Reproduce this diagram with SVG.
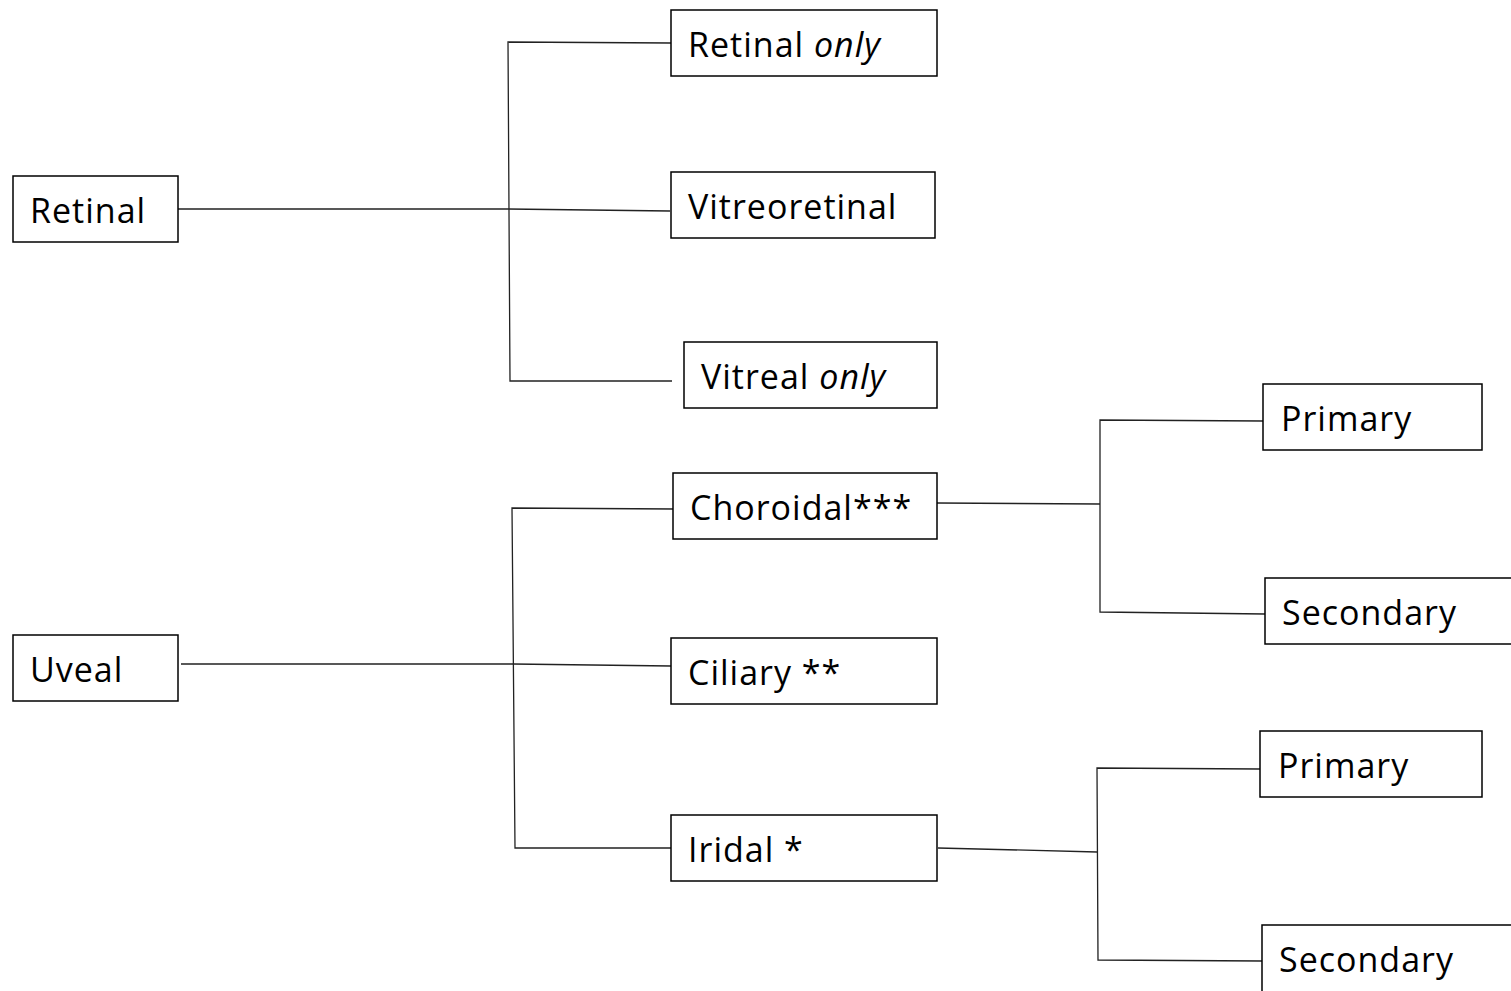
<svg xmlns="http://www.w3.org/2000/svg" width="1511" height="991" viewBox="0 0 1511 991">
<style>
.box{fill:#fff;stroke:#000;stroke-width:1.5}
.t{font-family:"Open Sans","Liberation Sans",sans-serif;font-size:34px;letter-spacing:1px;fill:#000}
.c{fill:none;stroke:#222;stroke-width:1.3}
</style>
<rect width="1511" height="991" fill="#fff"/>
<g id="connectors">
<polyline class="c" points="178,209 508,209 670,211"/>
<polyline class="c" points="671,43 508,42 510,381 672,381"/>
<polyline class="c" points="181,664 513,664 671,666"/>
<polyline class="c" points="675,509 512,508 515,848 671,848"/>
<polyline class="c" points="937,503 1100,504"/>
<polyline class="c" points="1263,421 1100,420 1100,612 1265,614"/>
<polyline class="c" points="938,848 1097,852"/>
<polyline class="c" points="1260,769 1097,768 1098,960 1262,961"/>
</g>
<g id="retinal"><rect class="box" x="13" y="176" width="165" height="66"/><text class="t" x="30" y="223">Retinal</text></g>
<g id="retinal-only"><rect class="box" x="671" y="10" width="266" height="66"/><text class="t" x="688" y="57">Retinal <tspan font-style="italic">only</tspan></text></g>
<g id="vitreoretinal"><rect class="box" x="671" y="172" width="264" height="66"/><text class="t" x="688" y="219">Vitreoretinal</text></g>
<g id="vitreal-only"><rect class="box" x="684" y="342" width="253" height="66"/><text class="t" x="701" y="389">Vitreal <tspan font-style="italic">only</tspan></text></g>
<g id="uveal"><rect class="box" x="13" y="635" width="165" height="66"/><text class="t" x="30" y="682">Uveal</text></g>
<g id="choroidal"><rect class="box" x="673" y="473" width="264" height="66"/><text class="t" x="690" y="520">Choroidal***</text></g>
<g id="ciliary"><rect class="box" x="671" y="638" width="266" height="66"/><text class="t" x="688" y="685">Ciliary **</text></g>
<g id="iridal"><rect class="box" x="671" y="815" width="266" height="66"/><text class="t" x="688" y="862">Iridal *</text></g>
<g id="primary1"><rect class="box" x="1263" y="384" width="219" height="66"/><text class="t" x="1281" y="431">Primary</text></g>
<g id="secondary1"><rect class="box" x="1265" y="578" width="250" height="66"/><text class="t" x="1282" y="625">Secondary</text></g>
<g id="primary2"><rect class="box" x="1260" y="731" width="222" height="66"/><text class="t" x="1278" y="778">Primary</text></g>
<g id="secondary2"><rect class="box" x="1262" y="925" width="253" height="70"/><text class="t" x="1279" y="972">Secondary</text></g>
</svg>
